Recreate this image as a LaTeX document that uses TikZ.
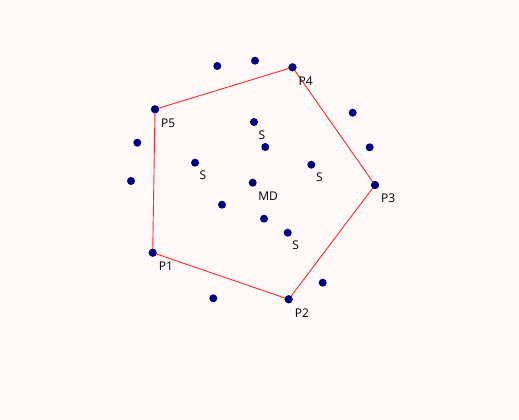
\documentclass[tikz,border=0pt]{standalone}
\usepackage{fontspec}
\setmainfont{Open Sans}
\usetikzlibrary{positioning}
\definecolor{bgpink}{HTML}{FFF8F8}
\definecolor{dotblue}{HTML}{000080}
\definecolor{hullred}{HTML}{FF2828}

\begin{document}
\begin{tikzpicture}[
    x=1pt, y=-1pt,
    pt/.style={circle, fill=dotblue, minimum size=8pt, inner sep=0pt},
    lbl/.style={anchor=north west, inner sep=0pt, font=\fontsize{12}{14}\selectfont},
    hull/.style={hullred, line width=0.9pt},
]
    % Background
    \fill[bgpink] (0,0) rectangle (519,420);
    \useasboundingbox (0,0) rectangle (519,420);

    % Hull points
    \foreach \n/\x/\y in {1/152.7/252.7, 2/288.7/299.3, 3/375/185, 4/292.5/67.3, 5/155/109.3} {
        \node[pt] (p\n) at (\x, \y) {};
    }

    % Hull
    \draw[hull] (p1.center) -- (p2.center) -- (p3.center) -- (p4.center) -- (p5.center) -- (p1.center);
    \foreach \n in {1,...,5} {
        \fill[dotblue] (p\n) circle (4pt);
    }

    % Hull labels
    \foreach \n in {1,...,5} {
        \node[lbl] (lp\n) at ([shift={(6,9)}]p\n) {P\n};
    }

    % Scattered points
    \foreach \n/\x/\y in {1/217.3/66, 2/255/60.7, 3/137.3/142.7, 4/131/181,
                          5/352.7/112.7, 6/369.7/147.3, 7/265.3/147,
                          8/222/204.7, 9/264/218.7, 10/322.7/282.7, 11/213.3/298.3} {
        \node[pt] (d\n) at (\x, \y) {};
    }

    % Labelled points
    \foreach \n/\x/\y in {1/254/122, 2/195/162.7, 3/311.3/164.7, 4/287.7/232.7} {
        \node[pt] (s\n) at (\x, \y) {};
        \node[lbl] (ls\n) at ([shift={(4.5,8.2)}]s\n) {S};
    }
    \node[pt] (md) at (252.7, 182.7) {};
    \node[lbl] (lmd) at ([shift={(5.5,9)}]md) {MD};
\end{tikzpicture}
\end{document}
